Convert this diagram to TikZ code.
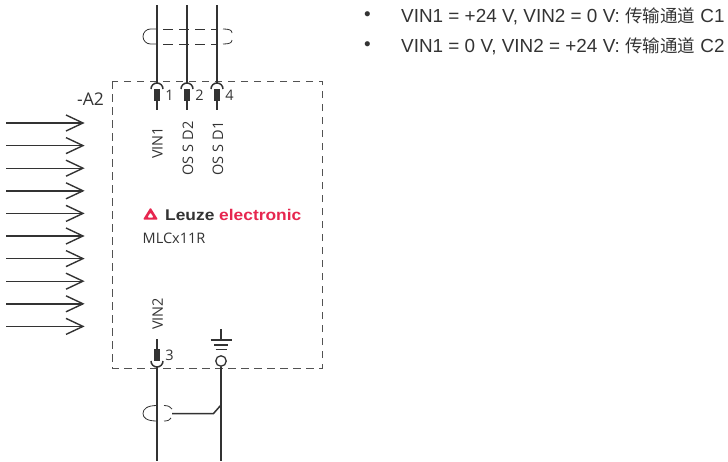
\documentclass[tikz,border=0pt]{standalone}
\usepackage{fontspec}
\setmainfont{Liberation Sans}
\setsansfont{Open Sans}
\newfontfamily\cjk{Noto Sans CJK SC}
\definecolor{wire}{HTML}{333333}
\definecolor{leuzered}{HTML}{E6264F}
\usetikzlibrary{calc,positioning}
\tikzset{
  wireline/.style={ % signal conductor
    draw=wire, line width=1.5pt
  },
  beam/.style={ % light beam with open head
    draw=wire, line width=1.4pt
  },
  plug/.style={ % contact pin
    draw=none, rectangle, fill=wire, minimum width=6pt, minimum height=11.5pt,
    inner sep=0pt
  },
  boxline/.style={
    draw=wire!85, line width=0.9pt, dash pattern=on 7.5pt off 5.5pt
  },
  shieldline/.style={
    draw=wire, line width=0.9pt, dash pattern=on 10pt off 6pt
  },
  shieldcurve/.style={
    draw=wire, line width=0.8pt
  },
  termlabel/.style={
    font=\sffamily\fontsize{14.5}{14.5}\selectfont, text=wire, inner sep=0pt
  },
  pinlabel/.style={
    font=\sffamily\fontsize{14.5}{14.5}\selectfont, text=wire, inner sep=0pt, rotate=90
  },
  notetext/.style={
    font=\fontsize{18.9}{18.9}\selectfont, text=wire, inner sep=0pt, anchor=west
  }
}
\newcommand{\chantext}{{\cjk\fontsize{17.5}{17.5}\selectfont 传输通道}}
\begin{document}
\begin{tikzpicture}[x=1pt, y=-1pt]
  \useasboundingbox (0,0) rectangle (728,461);

  % light beams
  \foreach \row/\ypos in {1/123,2/145.6,3/168.2,4/190.8,5/213.4,6/236,7/258.6,8/281.2,9/303.8,10/326.4} {
    \coordinate (beam\row a) at (6,\ypos);
    \coordinate (beam\row b) at (83,\ypos);
    \draw[beam] (beam\row a) -- (beam\row b);
    \draw[beam] ($(beam\row b)+(-17,-8)$) -- (beam\row b) -- ($(beam\row b)+(-17,8)$);
  }

  % housing
  \coordinate (boxnw) at (112,81);
  \coordinate (boxse) at (322,368);
  \draw[boxline] (boxnw) rectangle (boxse);
  \node[termlabel, font=\sffamily\fontsize{17.5}{17.5}\selectfont] (a2) at (90.5,99) {-A2};

  % upper terminals
  \foreach \pin/\xpos/\num in {one/157/1,two/187/2,four/217/4} {
    \coordinate (\pin top) at (\xpos,5);
    \coordinate (\pin arc) at (\xpos,83);
    \node[plug] (\pin plug) at (\xpos,95) {};
    \coordinate (\pin end) at (\xpos,110);
    \draw[wireline] (\pin top) -- (\pin arc);
    \draw[wireline] (\pin plug) -- (\pin end);
    \draw[wireline] ($(\pin arc)+(-6,6)$) arc[start angle=180, end angle=360, radius=6];
    \node[termlabel, right=5pt of \pin plug] (\pin num) {\num};
  }
  \node[pinlabel] (vinone) at (157.5,143) {VIN1};
  \node[pinlabel] (ossdtwo) at (188,148.5) {OS S D2};
  \node[pinlabel] (ossdone) at (218,148.5) {OS S D1};

  % upper shield
  \coordinate (shtl) at (157,29);
  \coordinate (shbl) at (157,44);
  \coordinate (shtr) at (217,29);
  \coordinate (shbr) at (217,44);
  \draw[shieldline, dash phase=10pt] (shtl) -- (shtr);
  \draw[shieldline, dash phase=10pt] (shbl) -- (shbr);
  \draw[shieldcurve] (shtl) -- ++(-6.5,0) arc[start angle=-90, end angle=-270, radius=7.5] -- (shbl);
  \draw[shieldcurve] (223,29) .. controls (229,29) and (232,30) .. (232,33);
  \draw[shieldcurve] (232,40) .. controls (232,43) and (229,44) .. (223,44);

  % logo
  \fill[leuzered, rounded corners=1pt, even odd rule]
    (150.5,207.5) -- (158,219.5) -- (143,219.5) -- cycle
    (150.5,212.5) -- (147.3,217.5) -- (153.7,217.5) -- cycle;
  \node[inner sep=0pt, anchor=west, xscale=1.12, font=\bfseries\fontsize{15.5}{15.5}\selectfont, text=wire] (leuze) at (165,215) {Leuze \textcolor{leuzered}{electronic}};
  \node[termlabel, anchor=west] (model) at (142.5,238) {MLCx11R};

  % lower terminal
  \coordinate (threeend) at (157,339);
  \node[plug] (threeplug) at (157,355) {};
  \coordinate (threearc) at (157,367);
  \coordinate (threebot) at (157,461);
  \draw[wireline] (threeend) -- (threeplug);
  \draw[wireline] (threearc) -- (threebot);
  \draw[wireline] ($(threearc)+(-6,-6)$) arc[start angle=180, end angle=0, radius=6];
  \node[termlabel, right=5pt of threeplug] (threenum) {3};
  \node[pinlabel] (vintwo) at (157.5,314) {VIN2};

  % ground terminal
  \coordinate (gndtop) at (221,329);
  \coordinate (gndbar) at (221,340);
  \node[circle, draw=wire, line width=1.3pt, minimum size=10.5pt, inner sep=0pt] (gndring) at (221,361) {};
  \coordinate (gndbot) at (221,461);
  \draw[wireline] (gndtop) -- (gndbar);
  \draw[wireline] ($(gndbar)+(-10.5,0)$) -- ($(gndbar)+(10.5,0)$);
  \draw[wireline] ($(gndbar)+(-7,5)$) -- ($(gndbar)+(7,5)$);
  \draw[wireline] ($(gndbar)+(-5.5,9.5)$) -- ($(gndbar)+(5.5,9.5)$);
  \draw[wireline] (gndring) -- (gndbot);

  % lower shield
  \coordinate (lowshield) at (172,413.5);
  \coordinate (lowknee) at (213.5,413.5);
  \coordinate (lowtap) at (221,405);
  \draw[wireline] (lowshield) -- (lowknee) -- (lowtap);
  \draw[shieldcurve] (157,405.5) .. controls (147,405.5) and (143,409) .. (143,413.5)
    .. controls (143,418) and (147,421) .. (157,421);
  \draw[shieldcurve] (164,405.5) .. controls (168,405.5) and (171,407) .. (172,409);
  \draw[shieldcurve] (164,421) .. controls (168,421) and (170,420) .. (171,418);

  % notes
  \node[notetext] (bulletone) at (364,16) {•};
  \node[notetext] (bullettwo) at (364,46) {•};
  \node[notetext] (noteone) at (401,16) {VIN1 = +24 V, VIN2 = 0 V: \chantext{} C1};
  \node[notetext] (notetwo) at (401,46) {VIN1 = 0 V, VIN2 = +24 V: \chantext{} C2};
\end{tikzpicture}
\end{document}
